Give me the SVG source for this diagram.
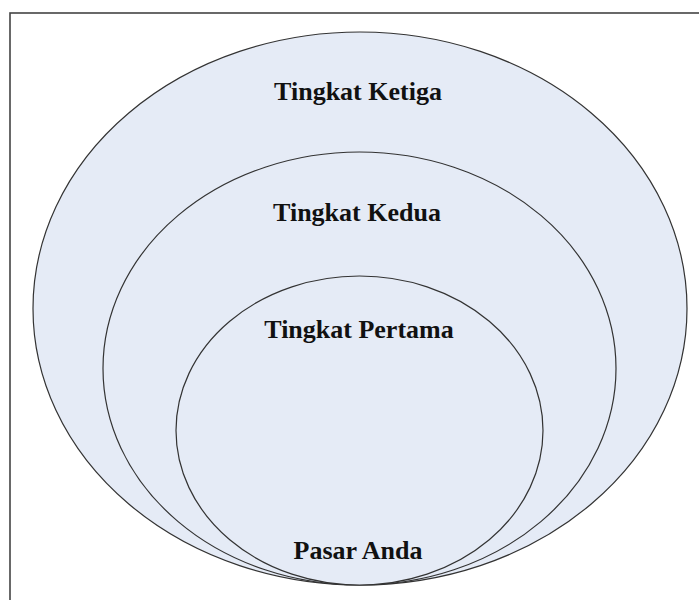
<svg xmlns="http://www.w3.org/2000/svg" width="699" height="600" viewBox="0 0 699 600">
  <style>
    .ring { fill: #e5ebf6; stroke: #333; stroke-width: 1.2; }
    .lbl { font-family: "Liberation Serif", "Times New Roman", serif; font-weight: bold; font-size: 26px; fill: #111; text-anchor: middle; }
  </style>
  <rect x="0" y="0" width="699" height="600" fill="#fff"/>
  <rect x="10" y="13" width="720" height="620" fill="none" stroke="#444" stroke-width="1.6"/>
  <g id="tingkat-ketiga">
    <ellipse class="ring" cx="360" cy="308.5" rx="327" ry="276.5"/>
    <text class="lbl" x="358" y="100">Tingkat Ketiga</text>
  </g>
  <g id="tingkat-kedua">
    <ellipse class="ring" cx="359.5" cy="368.5" rx="256.5" ry="216.5"/>
    <text class="lbl" x="357" y="221">Tingkat Kedua</text>
  </g>
  <g id="tingkat-pertama">
    <ellipse class="ring" cx="359.5" cy="430.5" rx="183.5" ry="154.5"/>
    <text class="lbl" x="359" y="338">Tingkat Pertama</text>
  </g>
  <g id="pasar-anda">
    <text class="lbl" x="358" y="559">Pasar Anda</text>
  </g>
  <g id="connectors"/>
</svg>
